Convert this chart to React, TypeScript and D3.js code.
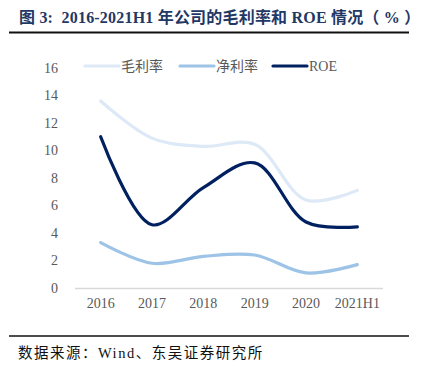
import { useMemo } from "react";
import * as d3 from "d3";

// 年份 + 三条线的数值（%），从图上读出来的
const years = ["2016", "2017", "2018", "2019", "2020", "2021H1"];
const grossMargin = [13.6, 10.9, 10.3, 10.45, 6.4, 7.1];
const netMargin = [3.3, 1.8, 2.3, 2.4, 1.1, 1.7];
const roe = [11.0, 4.6, 7.3, 9.1, 4.8, 4.45];
const yTicks = [0, 2, 4, 6, 8, 10, 12, 14, 16];

const seriesNames = ["毛利率", "净利率", "ROE"];
const seriesColors = ["#dde9f6", "#9dc3e6", "#002060"];

const W = 423;
const H = 369;
const serif = "'Liberation Serif', 'Times New Roman', 'Noto Sans CJK SC', serif";

export default function App() {
  const x = useMemo(() => d3.scaleBand<string>().domain(years).range([75, 383]), []);
  const y = useMemo(() => d3.scaleLinear().domain([0, 16]).range([288, 68]), []);

  const line = d3
    .line<number>()
    .x((_, i) => (x(years[i]) ?? 0) + x.bandwidth() / 2)
    .y((d) => y(d))
    .curve(d3.curveCatmullRom.alpha(0.5));

  const all = [grossMargin, netMargin, roe];
  // 图例位置：线段起点 + 文字
  const legendX = [85, 180, 273];

  return (
    <svg
      width={W}
      height={H}
      style={{ position: "absolute", left: 0, top: 0, background: "#fff" }}
    >
      <text
        x={19}
        y={23}
        fontFamily={serif}
        fontWeight={700}
        fontSize={16}
        letterSpacing={0.2}
        fill="#1f3864"
        style={{ whiteSpace: "pre" }}
      >
        {"图 3:  2016-2021H1 年公司的毛利率和 ROE 情况（ % ）"}
      </text>
      <line x1={9} x2={409} y1={32.5} y2={32.5} stroke="#111" strokeWidth={1.8} />

      {/* y 轴刻度文字 */}
      {yTicks.map((t) => (
        <text
          key={t}
          x={58}
          y={y(t)}
          dy="0.35em"
          textAnchor="end"
          fontFamily={serif}
          fontSize={14}
          fill="#595959"
        >
          {t}
        </text>
      ))}

      {/* x 轴 */}
      <line x1={75} x2={383} y1={288.5} y2={288.5} stroke="#d9d9d9" strokeWidth={1.5} />
      {years.map((yr) => (
        <text
          key={yr}
          x={(x(yr) ?? 0) + x.bandwidth() / 2}
          y={308}
          textAnchor="middle"
          fontFamily={serif}
          fontSize={14}
          fill="#595959"
        >
          {yr}
        </text>
      ))}

      {all.map((vals, i) => (
        <path
          key={seriesNames[i]}
          d={line(vals) ?? ""}
          fill="none"
          stroke={seriesColors[i]}
          strokeWidth={3.2}
          strokeLinecap="round"
        />
      ))}

      {/* 图例 */}
      {seriesNames.map((n, i) => (
        <g key={n} transform={`translate(${legendX[i]},66)`}>
          <line x1={0} x2={34} y1={0} y2={0} stroke={seriesColors[i]} strokeWidth={3.2} strokeLinecap="round" />
          <text x={36} y={0} dy="0.35em" fontFamily={serif} fontSize={14} fill="#595959">
            {n}
          </text>
        </g>
      ))}

      <line x1={9} x2={409} y1={336} y2={336} stroke="#111" strokeWidth={1.5} />
      <text x={18} y={358} fontFamily={serif} fontSize={14.5} letterSpacing={1.5} fill="#111">
        数据来源：Wind、东吴证券研究所
      </text>
    </svg>
  );
}
